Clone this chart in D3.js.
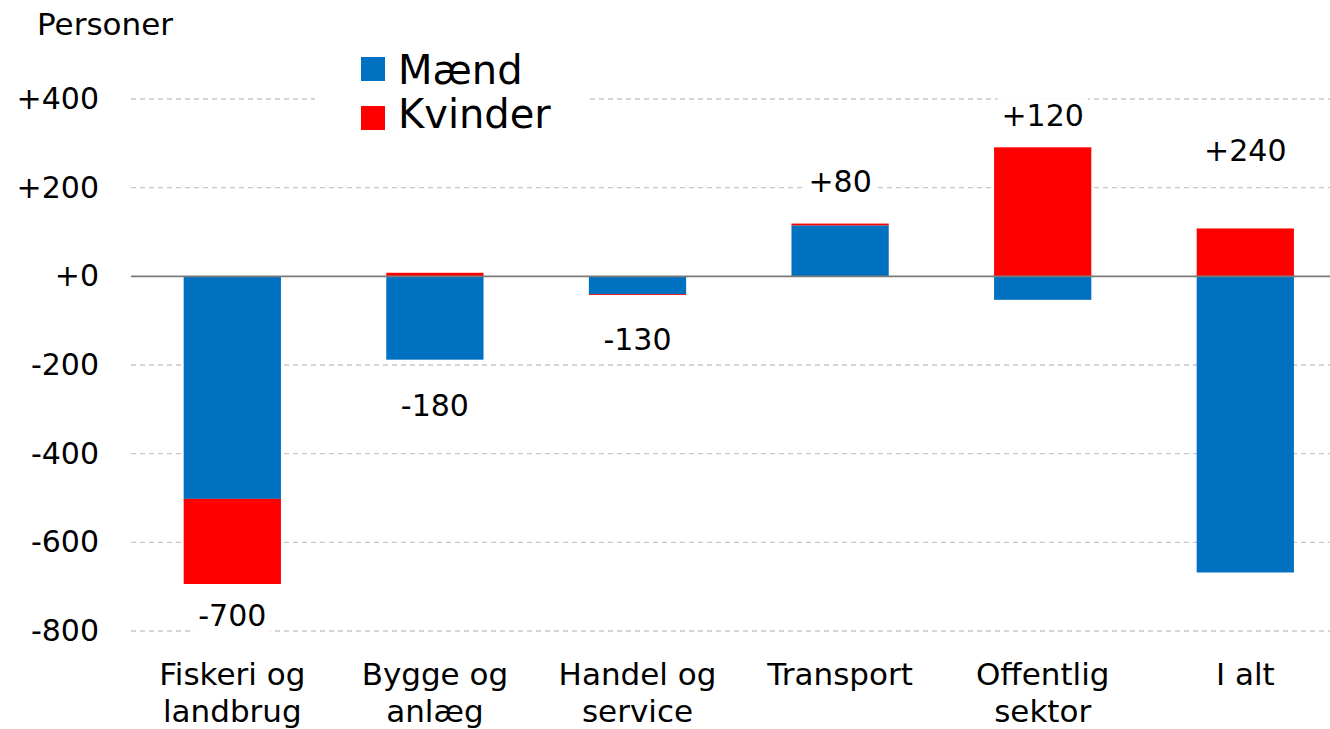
<!DOCTYPE html>
<html>
<head>
<meta charset="utf-8">
<script src="https://cdn.jsdelivr.net/npm/d3@7"></script>
<style>
  html, body { margin: 0; padding: 0; background: #fff; }
  svg { display: block; font-family: "DejaVu Sans", Verdana, sans-serif; }
</style>
</head>
<body>
<div id="chart"></div>
<script>
// Chart data
const categories = [
    ['Fiskeri og', 'landbrug'],
    ['Bygge og', 'anlæg'],
    ['Handel og', 'service'],
    ['Transport'],
    ['Offentlig', 'sektor'],
    ['I alt']
];
const maend   = [-502, -188, -40, 115, -53, -668];
const kvinder = [-192,    8,  -2,   4, 291,  108];
const totalLabels = ['-700', '-180', '-130', '+80', '+120', '+240'];
// value position of each total label on the y axis
const labelAt = [-764, -291, -142, 214, 363, 284];
const yTicks = [400, 200, 0, -200, -400, -600, -800];
const seriesNames = ['Mænd', 'Kvinder'];
const colors = { 'Mænd': '#0070C0', 'Kvinder': '#FF0000' };

function renderChart(containerId) {
    const width = 1330;
    const height = 729;
    const plot = { left: 131, right: 1346.6, top: 99, bottom: 631 };

    const svg = d3.select(`#${containerId}`)
        .append('svg')
        .attr('width', width)
        .attr('height', height);

    const keys = categories.map(c => c.join(' '));

    const xScale = d3.scaleBand()
        .domain(keys)
        .range([plot.left, plot.right])
        .paddingInner(0.52)
        .paddingOuter(0.26);

    const yScale = d3.scaleLinear()
        .domain([-800, 400])
        .range([plot.bottom, plot.top]);

    // Grid lines (dashed)
    svg.append('g')
        .selectAll('line')
        .data(yTicks.filter(d => d !== 0))
        .enter()
        .append('line')
        .attr('x1', plot.left)
        .attr('x2', width)
        .attr('y1', d => yScale(d))
        .attr('y2', d => yScale(d))
        .attr('stroke', '#c8c8c8')
        .attr('stroke-width', 1.3)
        .attr('stroke-dasharray', '5,4');

    // Y axis labels
    const yAxis = svg.append('g')
        .attr('transform', `translate(${plot.left}, 0)`)
        .call(d3.axisLeft(yScale)
            .tickValues(yTicks)
            .tickSize(0)
            .tickPadding(32)
            .tickFormat(d => (d >= 0 ? '+' : '') + d));
    yAxis.select('.domain').remove();
    yAxis.selectAll('text')
        .attr('fill', '#000')
        .style('font-size', '30px')
        .style('font-family', '"DejaVu Sans", Verdana, sans-serif');

    // Stacked bars
    const rows = keys.map((k, i) => ({ key: k, 'Mænd': maend[i], 'Kvinder': kvinder[i] }));
    const stacked = d3.stack()
        .keys(seriesNames)
        .offset(d3.stackOffsetDiverging)(rows);

    svg.append('g')
        .selectAll('g')
        .data(stacked)
        .enter()
        .append('g')
        .attr('fill', s => colors[s.key])
        .selectAll('rect')
        .data(s => s)
        .enter()
        .append('rect')
        .attr('x', d => xScale(d.data.key))
        .attr('width', xScale.bandwidth())
        .attr('y', d => yScale(Math.max(d[0], d[1])))
        .attr('height', d => Math.abs(yScale(d[0]) - yScale(d[1])));

    // Zero line
    svg.append('line')
        .attr('x1', plot.left)
        .attr('x2', width)
        .attr('y1', yScale(0))
        .attr('y2', yScale(0))
        .attr('stroke', '#7a7a7a')
        .attr('stroke-width', 1.6);

    // Total labels with white background
    const labels = svg.append('g');
    totalLabels.forEach((t, i) => {
        const g = labels.append('g');
        const txt = g.append('text')
            .attr('x', xScale(keys[i]) + xScale.bandwidth() / 2)
            .attr('y', yScale(labelAt[i]))
            .attr('dy', '0.36em')
            .attr('text-anchor', 'middle')
            .attr('fill', '#000')
            .style('font-size', '30px')
            .text(t);
        const bb = txt.node().getBBox();
        g.insert('rect', 'text')
            .attr('x', bb.x - 4)
            .attr('y', bb.y)
            .attr('width', bb.width + 8)
            .attr('height', bb.height)
            .attr('fill', '#fff');
    });

    // Category labels
    const xLabels = svg.append('g');
    categories.forEach((lines, i) => {
        const t = xLabels.append('text')
            .attr('x', xScale(keys[i]) + xScale.bandwidth() / 2)
            .attr('y', 685)
            .attr('text-anchor', 'middle')
            .attr('fill', '#000')
            .style('font-size', '31px');
        lines.forEach((l, j) => {
            t.append('tspan')
                .attr('x', xScale(keys[i]) + xScale.bandwidth() / 2)
                .attr('dy', j === 0 ? 0 : 37)
                .text(l);
        });
    });

    // Axis title
    svg.append('text')
        .attr('x', 37)
        .attr('y', 35)
        .attr('fill', '#000')
        .style('font-size', '31px')
        .text('Personer');

    // Legend
    const legend = svg.append('g')
        .attr('transform', 'translate(361, 57)');
    legend.append('rect')
        .attr('x', -46)
        .attr('y', -12)
        .attr('width', 273)
        .attr('height', 90)
        .attr('fill', '#fff');
    seriesNames.forEach((name, i) => {
        legend.append('rect')
            .attr('x', 0)
            .attr('y', i * 49)
            .attr('width', 24)
            .attr('height', 24)
            .attr('fill', colors[name]);
        legend.append('text')
            .attr('x', 37)
            .attr('y', 27 + i * 44)
            .attr('fill', '#000')
            .style('font-size', '40px')
            .text(name);
    });
}

renderChart('chart');
</script>
</body>
</html>
